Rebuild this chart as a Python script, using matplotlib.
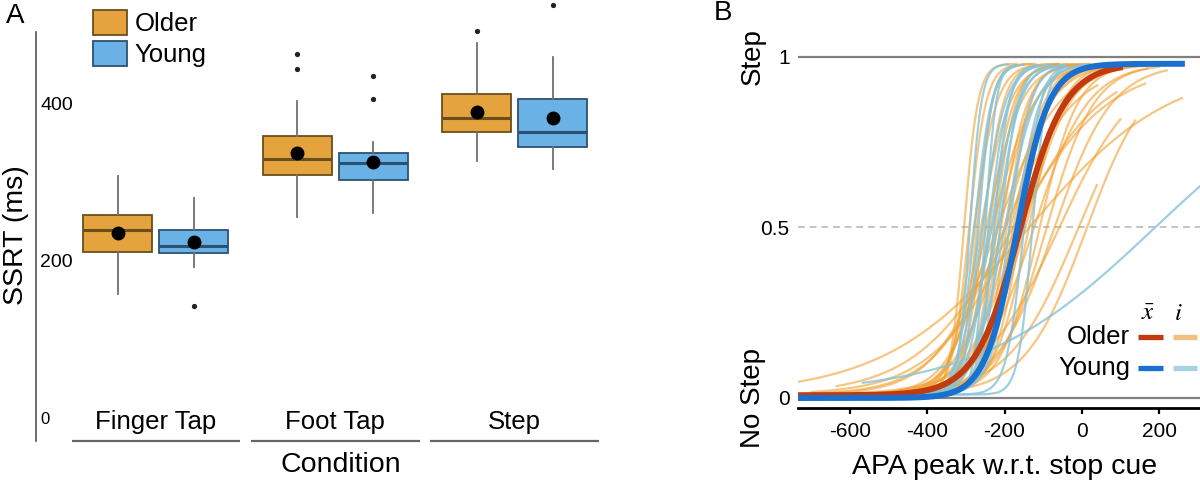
import matplotlib
matplotlib.use('Agg')
import matplotlib.pyplot as plt
import matplotlib.transforms as mtransforms
from matplotlib.patches import Patch
import numpy as np

plt.rcParams['font.family'] = ['Liberation Sans', 'DejaVu Sans']
plt.rcParams['mathtext.fontset'] = 'stix'
plt.rcParams['axes.unicode_minus'] = False

# ---- Panel A: SSRT box summaries (ms) ----
conditions = ['Finger Tap', 'Foot Tap', 'Step']

older_q1 = [211, 309, 364]
older_med = [239, 330, 382]
older_q3 = [258, 359, 412]
older_lo = [158, 256, 327]
older_hi = [308, 403, 477]
older_mean = [235, 337, 389]
older_fliers = [[], [444, 463], [492]]

young_q1 = [210, 303, 345]
young_med = [219, 324, 364]
young_q3 = [239, 337, 406]
young_lo = [192, 261, 317]
young_hi = [280, 351, 459]
young_mean = [224, 326, 382]
young_fliers = [[142], [406, 435], [525]]

# ---- Panel B: fitted psychometric curves (midpoint, scale, x-range) ----
older_mid = [-305, -292, -280, -272, -262, -255, -248, -240, -233, -226, -218, -210, -202, -195,
             -186, -178, -168, -158, -148, -138, -125, -110, -92, -72, -140, -180, -10, 12, -60,
             -200, -220, -170]
older_scale = [18, 22, 30, 20, 38, 26, 45, 32, 55, 28, 48, 35, 60, 30,
               52, 40, 65, 36, 58, 44, 70, 50, 62, 75, 185, 125, 90, 80, 100,
               90, 80, 110]
older_start = [-430, -470, -560, -450, -620, -520, -680, -560, -735, -500, -700, -600, -735, -520,
               -700, -600, -735, -580, -680, -600, -720, -620, -600, -650, -735, -634, -480, -420, -600,
               -735, -735, -700]
older_end = [-170, -120, -60, -130, 20, -60, 60, -20, 120, -40, 100, 20, 150, 0,
             130, 60, 180, 80, 160, 120, 200, 140, 170, 220, 259, 164, 39, 138, 100,
             40, 0, 90]

young_mid = [-290, -278, -268, -258, -250, -242, -235, -228, -220, -212, -200, -188, -172, -150, -128, 185]
young_scale = [15, 22, 18, 30, 14, 26, 35, 20, 30, 24, 40, 28, 32, 22, 18, 228]
young_start = [-420, -480, -430, -340, -380, -500, -600, -440, -520, -470, -620, -500, -520, -400, -330, -567]
young_end = [-190, -150, -170, -80, -190, -110, -40, -120, -60, -100, 10, -50, 20, -50, -40, 306]

# group means: midpoint, scale, floor, x-range
older_avg = dict(mid=-160, scale=58, floor=0.008, start=-735, end=106)
young_avg = dict(mid=-168, scale=41, floor=0.0, start=-735, end=267)

c_older, e_older = '#E4A33C', '#6b4e1c'
c_young, e_young = '#6AB2E5', '#2c5273'


def curve(mid, scale, start, end, floor=0.01, ceil=0.98):
    x = np.linspace(start, end, 300)
    return x, floor + (ceil - floor) / (1 + np.exp(-(x - mid) / scale))


fig = plt.figure(figsize=(12, 4.83), dpi=100)
axA = fig.add_axes([0.03, 0.087, 0.478, 0.913])
axB = fig.add_axes([0.665, 0.1553, 0.335, 0.762])

# ---------------- Panel A ----------------
def make_stats(q1, med, q3, lo, hi, mean, fl):
    return [dict(q1=a, med=b, q3=c, whislo=d, whishi=e, mean=f, fliers=g)
            for a, b, c, d, e, f, g in zip(q1, med, q3, lo, hi, mean, fl)]

groups = np.arange(len(conditions))
for stats, pos, fc, ec in [
        (make_stats(older_q1, older_med, older_q3, older_lo, older_hi, older_mean, older_fliers),
         groups - 0.212, c_older, e_older),
        (make_stats(young_q1, young_med, young_q3, young_lo, young_hi, young_mean, young_fliers),
         groups + 0.212, c_young, e_young)]:
    axA.bxp(stats, positions=pos, widths=0.384, patch_artist=True,
            showmeans=True, showcaps=False,
            boxprops=dict(facecolor=fc, edgecolor=ec, linewidth=1.3),
            medianprops=dict(color=ec, linewidth=2.2),
            whiskerprops=dict(color='#707070', linewidth=1.3),
            flierprops=dict(marker='o', markersize=3.8, markerfacecolor='#222222',
                            markeredgecolor='none'),
            meanprops=dict(marker='o', markersize=9, markerfacecolor='black',
                           markeredgecolor='black'))

axA.set_xlim(-0.668, 2.529)
axA.set_ylim(-29.3, 531.8)
for s in ['top', 'right', 'bottom']:
    axA.spines[s].set_visible(False)
axA.spines['left'].set_color('#555555')
axA.spines['left'].set_linewidth(1.2)
axA.spines['left'].set_bounds(-29.3, 491)
axA.set_yticks([0, 200, 400])
axA.tick_params(axis='y', length=0, pad=-3, labelsize=14)
for lbl in axA.get_yticklabels():
    lbl.set_horizontalalignment('left')
axA.get_yticklabels()[0].set_fontsize(12)
axA.set_xticks([])
for i, name in enumerate(conditions):
    axA.text(i, -5, name, ha='center', va='center', fontsize=18.5)
axA.hlines([-29.3] * len(conditions), groups - 0.47, groups + 0.47, color='#666666',
           lw=1.6, clip_on=False)

axA.set_xlabel('Condition', fontsize=20.5)
axA.xaxis.set_label_coords(0.531, -0.054)
axA.xaxis.label.set_va('center')
axA.set_ylabel('SSRT (ms)', fontsize=20.5)
axA.yaxis.set_label_coords(-0.0347, 0.467)
axA.yaxis.label.set_va('center')

axA.legend(handles=[Patch(facecolor=c_older, edgecolor=e_older, lw=1.3, label='Older'),
                    Patch(facecolor=c_young, edgecolor=e_young, lw=1.3, label='Young')],
           loc='upper left', bbox_to_anchor=(93 / 1200, 1 - 10 / 483),
           bbox_transform=fig.transFigure, frameon=False, fontsize=18.5,
           handlelength=1.32, handleheight=1.13, handletextpad=0.3,
           labelspacing=0.18, borderpad=0, borderaxespad=0)

# ---------------- Panel B ----------------
axB.axhline(1, color='#808080', lw=1.6, zorder=1)
axB.axhline(0, color='#808080', lw=1.6, zorder=1)
axB.axhline(0.5, color='#c4c4c4', lw=1.4, ls=(0, (3.5, 2.5)), zorder=1)

for m, s, a, b in zip(older_mid, older_scale, older_start, older_end):
    x, y = curve(m, s, a, b)
    axB.plot(x, y, color='#F0A030', alpha=0.6, lw=1.6, zorder=2)
for m, s, a, b in zip(young_mid, young_scale, young_start, young_end):
    x, y = curve(m, s, a, b)
    axB.plot(x, y, color='#86C3DA', alpha=0.8, lw=1.6, zorder=2)

x, y = curve(older_avg['mid'], older_avg['scale'], older_avg['start'], older_avg['end'],
             floor=older_avg['floor'])
axB.plot(x, y, color='#C23B0E', lw=4.3, solid_capstyle='butt', zorder=3)
x, y = curve(young_avg['mid'], young_avg['scale'], young_avg['start'], young_avg['end'],
             floor=young_avg['floor'])
axB.plot(x, y, color='#1A70D0', lw=4.3, solid_capstyle='butt', zorder=4)

axB.set_xlim(-734.6, 306.1)
axB.set_ylim(-0.0293, 1.0499)
for s in ['top', 'right', 'left']:
    axB.spines[s].set_visible(False)
axB.spines['bottom'].set_linewidth(2)
axB.set_xticks([-600, -400, -200, 0, 200])
axB.tick_params(axis='x', length=4, width=1.6, labelsize=15, pad=6)
axB.set_yticks([0, 0.5, 1])
axB.set_yticklabels(['0', '0.5', '1'])
axB.tick_params(axis='y', length=0, labelsize=15, pad=6)

side = mtransforms.blended_transform_factory(axB.transAxes, axB.transData)
axB.text(-0.112, 1, 'Step', transform=side, rotation=90, ha='center', va='center', fontsize=20)
axB.text(-0.112, 0, 'No Step', transform=side, rotation=90, ha='center', va='center', fontsize=20)

axB.set_xlabel('APA peak w.r.t. stop cue', fontsize=20.5)
axB.xaxis.set_label_coords(0.515, -0.160)
axB.xaxis.label.set_va('center')

# legend: mean (x-bar) and individual (i) lines
axB.text(0.871, 0.258, r'$\bar{x}$', transform=axB.transAxes, ha='center', va='center', fontsize=18)
axB.text(0.945, 0.258, r'$i$', transform=axB.transAxes, ha='center', va='center', fontsize=18)
for yy, name, dark, light in [(0.193, 'Older', '#C23B0E', '#F2C07E'),
                              (0.109, 'Young', '#1A70D0', '#A6D2E3')]:
    axB.text(0.826, yy, name, transform=axB.transAxes, ha='right', va='center', fontsize=18.5)
    axB.plot([0.846, 0.908], [yy, yy], color=dark, lw=3.8, transform=axB.transAxes,
             solid_capstyle='butt', clip_on=False, zorder=5)
    axB.plot([0.933, 0.993], [yy, yy], color=light, lw=3.8, transform=axB.transAxes,
             solid_capstyle='butt', clip_on=False, zorder=5)

fig.text(15 / 1200, 1 - 16 / 483, 'A', ha='center', va='center', fontsize=20)
fig.text(723 / 1200, 1 - 13 / 483, 'B', ha='center', va='center', fontsize=20)

fig.savefig('out.png', dpi=100)
